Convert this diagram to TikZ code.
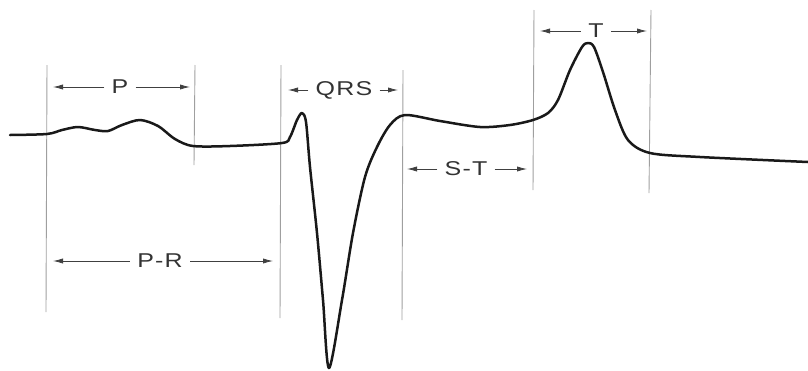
\documentclass[tikz,border=0pt]{standalone}
\usepackage{fontspec}
\setmainfont{Liberation Sans}
\usetikzlibrary{arrows.meta, calc}

\begin{document}
\begin{tikzpicture}[
    x=0.5pt, y=-0.5pt,
    guide/.style={gray!75, line width=0.45pt},
    trace/.style={black!90, line width=1.25pt, line join=round, line cap=round},
    arrow/.style={-{Latex[length=5pt,width=2.6pt]}, gray!50!black, line width=0.4pt},
    lbl/.style={font=\fontsize{10}{12}\selectfont\addfontfeature{FakeStretch=1.25,LetterSpace=6}, text=black!80, inner xsep=3.5pt, inner ysep=1pt}
]
\useasboundingbox (0,0) rectangle (808,370);

% guide lines
\coordinate (g1t) at (47,65);   \coordinate (g1b) at (46,312);
\coordinate (g2t) at (195,65);  \coordinate (g2b) at (194,165);
\coordinate (g3t) at (281,65);  \coordinate (g3b) at (280,318);
\coordinate (g4t) at (403,70);  \coordinate (g4b) at (402,320);
\coordinate (g5t) at (534,10);  \coordinate (g5b) at (533,190);
\coordinate (g6t) at (651,10);  \coordinate (g6b) at (649,193);
\foreach \g in {1,...,6}
    \draw [guide] (g\g t) -- (g\g b);

% ECG trace
\draw [trace] plot [smooth, tension=0.5] coordinates {
    (10,135) (47,134) (62,130) (78,127) (95,130) (108,131) (122,125) (140,120)
    (158,126) (175,139) (193,146) (230,146) (282,143) (290,137) (297,120)
    (302,113) (306,122) (310,167) (317,233) (323,300) (329,368)
    (342,300) (353,233) (365,177) (377,147) (390,125) (405,115) (440,121)
    (480,127) (510,125) (533,120) (548,113) (558,100) (570,70) (582,47)
    (588,43) (594,47) (603,72) (615,110) (628,140) (650,153) (700,157) (808,162)};

% interval labels
\node (lP) [lbl] at (120,87) {P};
\coordinate (pL) at (53,87);   \coordinate (pR) at (190,87);
\node (lQRS) [lbl] at (344,90) {QRS};
\coordinate (qL) at (288,90);  \coordinate (qR) at (398,90);
\node (lST) [lbl] at (466,169) {S-T};
\coordinate (sL) at (407,169); \coordinate (sR) at (527,169);
\node (lT) [lbl] at (596,31) {T};
\coordinate (tL) at (540,31);  \coordinate (tR) at (647,31);
\node (lPR) [lbl] at (160,261) {P-R};
\coordinate (rL) at (53,261);  \coordinate (rR) at (273,261);

\draw [arrow] (lP) -- (pL);   \draw [arrow] (lP) -- (pR);
\draw [arrow] (lQRS) -- (qL); \draw [arrow] (lQRS) -- (qR);
\draw [arrow] (lST) -- (sL);  \draw [arrow] (lST) -- (sR);
\draw [arrow] (lT) -- (tL);   \draw [arrow] (lT) -- (tR);
\draw [arrow] (lPR) -- (rL);  \draw [arrow] (lPR) -- (rR);
\end{tikzpicture}
\end{document}
